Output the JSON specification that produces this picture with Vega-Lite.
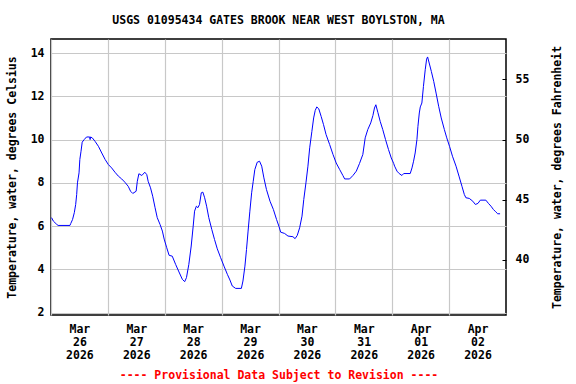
{
  "$schema": "https://vega.github.io/schema/vega-lite/v6.json",
  "width": 455,
  "height": 276,
  "autosize": {"type": "none"},
  "padding": {"left": 51, "top": 39, "right": 70, "bottom": 69},
  "background": "white",
  "config": {
    "view": {"stroke": "#000000", "strokeWidth": 1.5},
    "font": "DejaVu Sans Mono",
    "axis": {"labelFont": "DejaVu Sans Mono", "titleFont": "DejaVu Sans Mono", "labelFontSize": 11.5, "titleFontSize": 11.5, "labelFontWeight": "bold", "titleFontWeight": "bold", "labelColor": "#000", "titleColor": "#000", "gridColor": "#c8c8c8", "gridWidth": 1.2, "domain": false}
  },
  "title": {"text": "USGS 01095434 GATES BROOK NEAR WEST BOYLSTON, MA", "font": "DejaVu Sans Mono", "fontSize": 11.5, "fontWeight": "bold", "color": "#000", "anchor": "middle", "frame": "group", "offset": 13},
  "data": {"values": [
    {"t": "2026-03-26T00:15", "c": 6.39}, {"t": "2026-03-26T01:00", "c": 6.23}, {"t": "2026-03-26T02:25", "c": 6.08}, {"t": "2026-03-26T03:00", "c": 6.03}, {"t": "2026-03-26T08:00", "c": 6.03}, {"t": "2026-03-26T08:20", "c": 6.12}, {"t": "2026-03-26T09:05", "c": 6.30}, {"t": "2026-03-26T09:50", "c": 6.62}, {"t": "2026-03-26T10:25", "c": 7.00}, {"t": "2026-03-26T10:50", "c": 7.46}, {"t": "2026-03-26T11:10", "c": 8.00}, {"t": "2026-03-26T11:50", "c": 8.46}, {"t": "2026-03-26T12:10", "c": 9.08}, {"t": "2026-03-26T12:40", "c": 9.46}, {"t": "2026-03-26T13:10", "c": 9.88}, {"t": "2026-03-26T14:00", "c": 10.00}, {"t": "2026-03-26T15:00", "c": 10.12}, {"t": "2026-03-26T16:20", "c": 10.12}, {"t": "2026-03-26T16:30", "c": 10.00}, {"t": "2026-03-26T16:40", "c": 10.12}, {"t": "2026-03-26T17:25", "c": 10.08}, {"t": "2026-03-26T18:35", "c": 9.92}, {"t": "2026-03-26T20:00", "c": 9.69}, {"t": "2026-03-26T21:25", "c": 9.38}, {"t": "2026-03-26T22:50", "c": 9.08},
    {"t": "2026-03-27T00:10", "c": 8.85}, {"t": "2026-03-27T01:35", "c": 8.69}, {"t": "2026-03-27T03:00", "c": 8.49}, {"t": "2026-03-27T04:25", "c": 8.31}, {"t": "2026-03-27T05:50", "c": 8.18}, {"t": "2026-03-27T07:10", "c": 8.03}, {"t": "2026-03-27T08:35", "c": 7.84}, {"t": "2026-03-27T09:35", "c": 7.61}, {"t": "2026-03-27T10:30", "c": 7.51}, {"t": "2026-03-27T11:55", "c": 7.61}, {"t": "2026-03-27T12:25", "c": 8.07}, {"t": "2026-03-27T13:05", "c": 8.42}, {"t": "2026-03-27T14:20", "c": 8.34}, {"t": "2026-03-27T15:35", "c": 8.49}, {"t": "2026-03-27T16:25", "c": 8.38}, {"t": "2026-03-27T17:00", "c": 8.07}, {"t": "2026-03-27T18:00", "c": 7.77}, {"t": "2026-03-27T18:55", "c": 7.38}, {"t": "2026-03-27T19:55", "c": 6.85}, {"t": "2026-03-27T20:50", "c": 6.39}, {"t": "2026-03-27T22:00", "c": 6.08}, {"t": "2026-03-27T23:00", "c": 5.77}, {"t": "2026-03-27T23:45", "c": 5.40},
    {"t": "2026-03-28T00:50", "c": 5.00}, {"t": "2026-03-28T01:50", "c": 4.65}, {"t": "2026-03-28T03:10", "c": 4.61}, {"t": "2026-03-28T04:35", "c": 4.23}, {"t": "2026-03-28T06:00", "c": 3.88}, {"t": "2026-03-28T07:25", "c": 3.54}, {"t": "2026-03-28T08:25", "c": 3.43}, {"t": "2026-03-28T09:10", "c": 3.62}, {"t": "2026-03-28T10:10", "c": 4.23}, {"t": "2026-03-28T11:10", "c": 5.08}, {"t": "2026-03-28T12:00", "c": 6.00}, {"t": "2026-03-28T12:35", "c": 6.69}, {"t": "2026-03-28T13:20", "c": 6.92}, {"t": "2026-03-28T14:00", "c": 6.85}, {"t": "2026-03-28T14:40", "c": 7.00}, {"t": "2026-03-28T15:25", "c": 7.54}, {"t": "2026-03-28T16:05", "c": 7.57}, {"t": "2026-03-28T16:50", "c": 7.31}, {"t": "2026-03-28T17:40", "c": 6.92}, {"t": "2026-03-28T18:35", "c": 6.39}, {"t": "2026-03-28T19:50", "c": 5.85}, {"t": "2026-03-28T21:00", "c": 5.38}, {"t": "2026-03-28T22:10", "c": 4.95}, {"t": "2026-03-28T23:35", "c": 4.54},
    {"t": "2026-03-29T01:00", "c": 4.15}, {"t": "2026-03-29T02:25", "c": 3.77}, {"t": "2026-03-29T03:30", "c": 3.51}, {"t": "2026-03-29T04:30", "c": 3.23}, {"t": "2026-03-29T05:55", "c": 3.12}, {"t": "2026-03-29T08:20", "c": 3.12}, {"t": "2026-03-29T09:00", "c": 3.46}, {"t": "2026-03-29T09:50", "c": 4.15}, {"t": "2026-03-29T10:30", "c": 4.92}, {"t": "2026-03-29T11:10", "c": 5.77}, {"t": "2026-03-29T11:55", "c": 6.69}, {"t": "2026-03-29T12:40", "c": 7.54}, {"t": "2026-03-29T13:20", "c": 8.07}, {"t": "2026-03-29T14:00", "c": 8.61}, {"t": "2026-03-29T15:00", "c": 8.95}, {"t": "2026-03-29T16:00", "c": 9.00}, {"t": "2026-03-29T16:55", "c": 8.77}, {"t": "2026-03-29T17:50", "c": 8.23}, {"t": "2026-03-29T18:55", "c": 7.69}, {"t": "2026-03-29T20:25", "c": 7.15}, {"t": "2026-03-29T21:50", "c": 6.77}, {"t": "2026-03-29T23:10", "c": 6.31},
    {"t": "2026-03-30T00:15", "c": 5.97}, {"t": "2026-03-30T00:55", "c": 5.72}, {"t": "2026-03-30T02:35", "c": 5.66}, {"t": "2026-03-30T04:00", "c": 5.54}, {"t": "2026-03-30T06:05", "c": 5.51}, {"t": "2026-03-30T07:00", "c": 5.42}, {"t": "2026-03-30T07:55", "c": 5.57}, {"t": "2026-03-30T08:55", "c": 5.92}, {"t": "2026-03-30T09:55", "c": 6.46}, {"t": "2026-03-30T10:40", "c": 7.23}, {"t": "2026-03-30T11:35", "c": 8.00}, {"t": "2026-03-30T12:25", "c": 8.77}, {"t": "2026-03-30T13:10", "c": 9.62}, {"t": "2026-03-30T14:05", "c": 10.38}, {"t": "2026-03-30T14:50", "c": 11.00}, {"t": "2026-03-30T15:30", "c": 11.35}, {"t": "2026-03-30T16:10", "c": 11.51}, {"t": "2026-03-30T17:00", "c": 11.42}, {"t": "2026-03-30T18:00", "c": 11.07}, {"t": "2026-03-30T19:00", "c": 10.69}, {"t": "2026-03-30T20:05", "c": 10.23}, {"t": "2026-03-30T21:35", "c": 9.77}, {"t": "2026-03-30T23:00", "c": 9.31},
    {"t": "2026-03-31T00:20", "c": 8.92}, {"t": "2026-03-31T01:50", "c": 8.61}, {"t": "2026-03-31T03:10", "c": 8.34}, {"t": "2026-03-31T03:55", "c": 8.18}, {"t": "2026-03-31T06:00", "c": 8.18}, {"t": "2026-03-31T07:25", "c": 8.34}, {"t": "2026-03-31T08:50", "c": 8.54}, {"t": "2026-03-31T10:10", "c": 8.89}, {"t": "2026-03-31T11:35", "c": 9.31}, {"t": "2026-03-31T12:35", "c": 10.08}, {"t": "2026-03-31T13:40", "c": 10.46}, {"t": "2026-03-31T14:55", "c": 10.77}, {"t": "2026-03-31T15:50", "c": 11.11}, {"t": "2026-03-31T16:30", "c": 11.46}, {"t": "2026-03-31T17:05", "c": 11.61}, {"t": "2026-03-31T17:55", "c": 11.26}, {"t": "2026-03-31T18:55", "c": 10.84}, {"t": "2026-03-31T20:00", "c": 10.46}, {"t": "2026-03-31T21:10", "c": 10.00}, {"t": "2026-03-31T22:25", "c": 9.54}, {"t": "2026-03-31T23:35", "c": 9.15},
    {"t": "2026-04-01T00:35", "c": 8.90}, {"t": "2026-04-01T01:00", "c": 8.77}, {"t": "2026-04-01T02:00", "c": 8.54}, {"t": "2026-04-01T02:55", "c": 8.43}, {"t": "2026-04-01T04:05", "c": 8.34}, {"t": "2026-04-01T04:50", "c": 8.43}, {"t": "2026-04-01T07:35", "c": 8.43}, {"t": "2026-04-01T08:20", "c": 8.69}, {"t": "2026-04-01T09:00", "c": 9.00}, {"t": "2026-04-01T09:40", "c": 9.38}, {"t": "2026-04-01T10:25", "c": 10.00}, {"t": "2026-04-01T10:50", "c": 10.61}, {"t": "2026-04-01T11:25", "c": 11.23}, {"t": "2026-04-01T11:50", "c": 11.51}, {"t": "2026-04-01T12:30", "c": 11.69}, {"t": "2026-04-01T13:10", "c": 12.46}, {"t": "2026-04-01T13:55", "c": 13.23}, {"t": "2026-04-01T14:30", "c": 13.72}, {"t": "2026-04-01T14:55", "c": 13.82}, {"t": "2026-04-01T15:35", "c": 13.54}, {"t": "2026-04-01T16:30", "c": 13.15}, {"t": "2026-04-01T17:30", "c": 12.69}, {"t": "2026-04-01T18:30", "c": 12.15}, {"t": "2026-04-01T19:35", "c": 11.54}, {"t": "2026-04-01T20:40", "c": 11.00}, {"t": "2026-04-01T22:00", "c": 10.46}, {"t": "2026-04-01T23:00", "c": 10.08},
    {"t": "2026-04-02T00:10", "c": 9.69}, {"t": "2026-04-02T01:25", "c": 9.23}, {"t": "2026-04-02T02:55", "c": 8.77}, {"t": "2026-04-02T04:10", "c": 8.31}, {"t": "2026-04-02T05:25", "c": 7.84}, {"t": "2026-04-02T06:25", "c": 7.46}, {"t": "2026-04-02T07:05", "c": 7.31}, {"t": "2026-04-02T08:30", "c": 7.28}, {"t": "2026-04-02T10:00", "c": 7.15}, {"t": "2026-04-02T11:05", "c": 7.00}, {"t": "2026-04-02T12:10", "c": 7.05}, {"t": "2026-04-02T13:10", "c": 7.20}, {"t": "2026-04-02T15:30", "c": 7.20}, {"t": "2026-04-02T16:35", "c": 7.05}, {"t": "2026-04-02T17:40", "c": 6.92}, {"t": "2026-04-02T18:40", "c": 6.77}, {"t": "2026-04-02T19:40", "c": 6.66}, {"t": "2026-04-02T20:30", "c": 6.57}, {"t": "2026-04-02T21:30", "c": 6.57}
  ]},
  "layer": [
    {
      "mark": {"type": "line", "color": "#0000ff", "strokeWidth": 1, "clip": true},
      "encoding": {
        "x": {"field": "t", "type": "temporal",
          "scale": {"domain": [{"year": 2026, "month": 3, "date": 26}, {"year": 2026, "month": 4, "date": 3}]},
          "axis": {
            "values": [{"year": 2026, "month": 3, "date": 26}, {"year": 2026, "month": 3, "date": 27}, {"year": 2026, "month": 3, "date": 28}, {"year": 2026, "month": 3, "date": 29}, {"year": 2026, "month": 3, "date": 30}, {"year": 2026, "month": 3, "date": 31}, {"year": 2026, "month": 4, "date": 1}, {"year": 2026, "month": 4, "date": 2}],
            "labelExpr": "[timeFormat(datum.value, '%b'), timeFormat(datum.value, '%d'), timeFormat(datum.value, '%Y')]",
            "labelOffset": 28.4, "labelOverlap": false, "labelFlush": false, "labelBound": false,
            "labelLineHeight": 13, "labelPadding": 8, "labelBaseline": "top",
            "ticks": false, "grid": true,
            "title": "---- Provisional Data Subject to Revision ----",
            "titleColor": "#ff0000", "titleY": 60, "titleBaseline": "middle"
          }
        },
        "y": {"field": "c", "type": "quantitative",
          "scale": {"domain": [1.89, 14.65], "nice": false, "zero": false},
          "axis": {"orient": "left", "values": [2, 4, 6, 8, 10, 12, 14], "ticks": false, "grid": true, "labelPadding": 7,
            "title": "Temperature, water, degrees Celsius", "titleX": -39, "titleY": 138, "titleAlign": "center", "titleBaseline": "middle", "titleAngle": 270}
        }
      }
    },
    {
      "mark": {"type": "line", "strokeOpacity": 0},
      "encoding": {
        "x": {"field": "t", "type": "temporal"},
        "y": {"field": "c", "type": "quantitative",
          "axis": {"orient": "right", "values": [4.4444, 7.2222, 10, 12.7778], "labelExpr": "format(datum.value * 1.8 + 32, '.0f')",
            "grid": false, "ticks": true, "tickSize": -4, "tickColor": "#000", "tickWidth": 1, "labelPadding": 13,
            "title": "Temperature, water, degrees Fahrenheit", "titleX": 51, "titleY": 138, "titleAlign": "center", "titleBaseline": "middle", "titleAngle": 270}
        }
      }
    }
  ],
  "resolve": {"axis": {"y": "independent"}}
}
